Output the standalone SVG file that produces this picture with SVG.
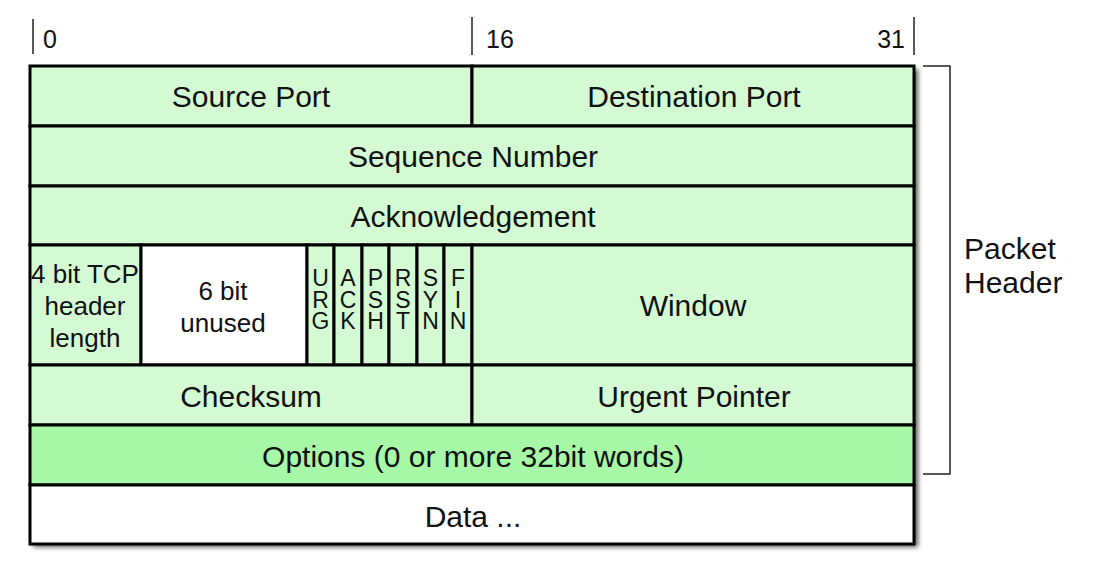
<svg xmlns="http://www.w3.org/2000/svg" width="1093" height="572" viewBox="0 0 1093 572">
  <style>
    .cell { stroke: #000; stroke-width: 3; }
    .lg { fill: #d4fad4; }
    .dg { fill: #a6f8a6; }
    .wh { fill: #ffffff; }
    .t { font-family: "Liberation Sans", Arial, sans-serif; font-size: 30px; fill: #111; text-anchor: middle; }
    .lt { font-family: "Liberation Sans", Arial, sans-serif; font-size: 30px; fill: #111; text-anchor: start; }
    .s { font-family: "Liberation Sans", Arial, sans-serif; font-size: 26px; fill: #111; text-anchor: middle; }
    .n { font-family: "Liberation Sans", Arial, sans-serif; font-size: 25px; fill: #111; }
    .f { font-family: "Liberation Sans", Arial, sans-serif; font-size: 23px; fill: #111; text-anchor: middle; }
    .tick { stroke: #222; stroke-width: 1.5; fill: none; }
  </style>
  <defs>
    <filter id="sh" x="-5%" y="-5%" width="110%" height="110%">
      <feGaussianBlur stdDeviation="2.5"/>
    </filter>
  </defs>
  <rect width="1093" height="572" fill="#ffffff"/>

  <g id="scale">
    <line class="tick" x1="33" y1="19" x2="33" y2="54"/>
    <line class="tick" x1="472" y1="17" x2="472" y2="55"/>
    <line class="tick" x1="914" y1="17" x2="914" y2="55"/>
    <text class="n" x="43" y="48">0</text>
    <text class="n" x="486" y="48">16</text>
    <text class="n" x="905" y="48" style="text-anchor:end">31</text>
  </g>

  <rect x="33" y="69" width="885" height="478" fill="#555" filter="url(#sh)"/>

  <g id="source-port"><rect class="cell lg" x="30" y="66" width="442" height="60"/><text class="t" x="251" y="107">Source Port</text></g>
  <g id="destination-port"><rect class="cell lg" x="472" y="66" width="442" height="60"/><text class="t" x="694" y="107">Destination Port</text></g>
  <g id="sequence-number"><rect class="cell lg" x="30" y="126" width="884" height="60"/><text class="t" x="473" y="167">Sequence Number</text></g>
  <g id="acknowledgement"><rect class="cell lg" x="30" y="186" width="884" height="59"/><text class="t" x="473" y="227">Acknowledgement</text></g>
  <g id="header-length"><rect class="cell lg" x="30" y="245" width="111" height="120"/>
    <text class="s" x="85" y="283">4 bit TCP</text>
    <text class="s" x="85" y="315">header</text>
    <text class="s" x="85" y="347">length</text>
  </g>
  <g id="unused"><rect class="cell wh" x="141" y="245" width="166" height="120"/>
    <text class="s" x="223" y="300">6 bit</text>
    <text class="s" x="223" y="332">unused</text>
  </g>
  <g id="flag-urg"><rect class="cell lg" x="307" y="245" width="27" height="120"/>
    <text class="f" x="320.5" y="286">U<tspan x="320.5" dy="21.5">R</tspan><tspan x="320.5" dy="21.5">G</tspan></text></g>
  <g id="flag-ack"><rect class="cell lg" x="334" y="245" width="28" height="120"/>
    <text class="f" x="348" y="286">A<tspan x="348" dy="21.5">C</tspan><tspan x="348" dy="21.5">K</tspan></text></g>
  <g id="flag-psh"><rect class="cell lg" x="362" y="245" width="27" height="120"/>
    <text class="f" x="375.5" y="286">P<tspan x="375.5" dy="21.5">S</tspan><tspan x="375.5" dy="21.5">H</tspan></text></g>
  <g id="flag-rst"><rect class="cell lg" x="389" y="245" width="28" height="120"/>
    <text class="f" x="403" y="286">R<tspan x="403" dy="21.5">S</tspan><tspan x="403" dy="21.5">T</tspan></text></g>
  <g id="flag-syn"><rect class="cell lg" x="417" y="245" width="27" height="120"/>
    <text class="f" x="430.5" y="286">S<tspan x="430.5" dy="21.5">Y</tspan><tspan x="430.5" dy="21.5">N</tspan></text></g>
  <g id="flag-fin"><rect class="cell lg" x="444" y="245" width="28" height="120"/>
    <text class="f" x="458" y="286">F<tspan x="458" dy="21.5">I</tspan><tspan x="458" dy="21.5">N</tspan></text></g>
  <g id="window"><rect class="cell lg" x="472" y="245" width="442" height="120"/><text class="t" x="693" y="316">Window</text></g>
  <g id="checksum"><rect class="cell lg" x="30" y="365" width="442" height="60"/><text class="t" x="251" y="407">Checksum</text></g>
  <g id="urgent-pointer"><rect class="cell lg" x="472" y="365" width="442" height="60"/><text class="t" x="694" y="407">Urgent Pointer</text></g>
  <g id="options"><rect class="cell dg" x="30" y="425" width="884" height="60"/><text class="t" x="473" y="467">Options (0 or more 32bit words)</text></g>
  <g id="data"><rect class="cell wh" x="30" y="485" width="884" height="59"/><text class="t" x="473" y="527">Data ...</text></g>

  <g id="packet-header">
    <polyline class="tick" points="923,66 950,66 950,474 923,474"/>
    <text class="lt" x="964" y="259">Packet</text>
    <text class="lt" x="964" y="293">Header</text>
  </g>
</svg>
